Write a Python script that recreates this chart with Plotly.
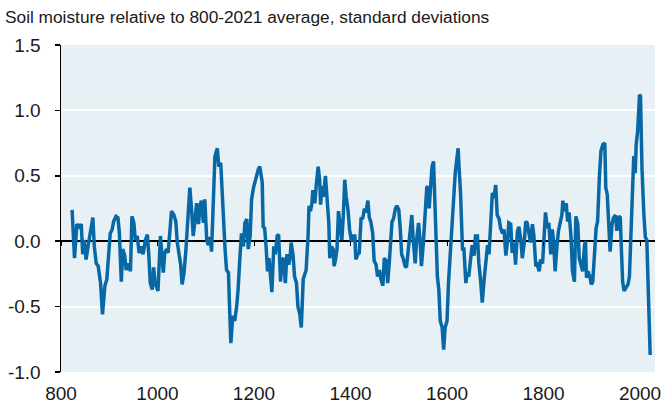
import plotly.graph_objects as go

years = [823, 828, 833, 838, 842, 845, 848, 852, 856, 860, 866, 869, 873, 877, 882, 886, 891, 895, 899, 902,
         906, 909, 914, 918, 921, 925, 928, 932, 935, 939, 944, 947, 951, 954, 958, 962, 966, 970, 975, 979,
         982, 985, 989, 992, 995, 1001, 1006,
         1012, 1015, 1019, 1022, 1026, 1029, 1034, 1038, 1041, 1045, 1048, 1051, 1055, 1059, 1063, 1067, 1071,
         1074, 1078, 1081, 1085, 1088, 1091, 1095, 1098, 1102, 1105, 1109, 1112, 1116, 1119, 1124, 1127, 1131,
         1134, 1136, 1140, 1143, 1147, 1149, 1152, 1156, 1160, 1164, 1167, 1171, 1174, 1178, 1181, 1185, 1188,
         1192, 1195, 1199, 1202, 1205, 1209, 1212,
         1217, 1219, 1222, 1225, 1228, 1231, 1234, 1237, 1241, 1244, 1248, 1251, 1255, 1258, 1261, 1265, 1268,
         1272, 1275, 1277, 1281, 1284, 1288, 1291, 1295, 1298, 1302, 1305, 1308, 1312, 1314, 1317, 1320, 1322,
         1326, 1329, 1333, 1336, 1338, 1341, 1344, 1348, 1351, 1355, 1357, 1360, 1364, 1366, 1369, 1372, 1375,
         1379, 1382, 1385, 1388, 1391, 1395, 1398, 1402, 1405, 1409, 1411, 1415,
         1418, 1422, 1425, 1429, 1432, 1436, 1439, 1442, 1446, 1449, 1453, 1456, 1460, 1463, 1467, 1470, 1474,
         1477, 1480, 1484, 1486, 1489, 1493, 1496, 1500, 1503, 1506, 1509, 1513, 1516, 1520, 1523, 1527, 1530,
         1534, 1537, 1541, 1544, 1547, 1551, 1554, 1558, 1560, 1563, 1566, 1569, 1572, 1574, 1577, 1580, 1583,
         1586, 1590, 1593, 1596, 1600, 1603, 1607, 1610, 1613, 1617,
         1620, 1623, 1625, 1628, 1632, 1635, 1639, 1642, 1645, 1649, 1652, 1656, 1659, 1663, 1666, 1670, 1673,
         1677, 1680, 1684, 1687, 1690, 1694, 1697, 1701, 1704, 1708, 1711, 1715, 1718, 1722, 1725, 1728, 1732,
         1735, 1739, 1742, 1746, 1749, 1753, 1756, 1760, 1763, 1766, 1770, 1773, 1777, 1780, 1784, 1787, 1791,
         1794, 1798, 1801, 1804, 1808, 1811, 1815, 1818,
         1821, 1824, 1828, 1831, 1835, 1838, 1840, 1843, 1847, 1850, 1853, 1857, 1860, 1864, 1867, 1871, 1874,
         1878, 1881, 1885, 1887, 1889, 1892, 1896, 1899, 1902, 1905, 1909, 1912, 1914, 1916, 1919, 1923, 1927,
         1929, 1932, 1935, 1938, 1942, 1945, 1949, 1952, 1956, 1959, 1961, 1964, 1967, 1971, 1975, 1978, 1981,
         1984, 1987, 1990, 1992, 1995, 1999, 2001, 2004, 2008, 2011, 2014, 2017, 2019, 2021]

moisture = [0.24, -0.13, 0.13, 0.11, 0.13, -0.10, 0.01, -0.14, -0.04, 0.04, 0.18, -0.04, -0.17, -0.19, -0.32, -0.56, -0.34, -0.29, -0.06, 0.06,
            0.09, 0.15, 0.19, 0.18, 0.06, -0.31, -0.06, -0.11, -0.22, -0.17, -0.23, 0.19, 0.14, 0.01, 0.04, -0.09, -0.04, -0.10, 0.01, 0.05,
            -0.11, -0.32, -0.37, -0.20, -0.32, -0.38, 0.04,
            -0.24, -0.09, -0.06, -0.09, 0.06, 0.23, 0.20, 0.15, -0.01, -0.13, -0.18, -0.33, -0.24, -0.06, 0.17, 0.41, 0.22,
            0.04, 0.17, 0.29, 0.13, 0.27, 0.31, 0.14, 0.32, 0.01, -0.03, 0.03, -0.08, 0.41, 0.65, 0.71, 0.57, 0.60,
            0.39, 0.14, -0.06, -0.22, -0.24, -0.47, -0.78, -0.57, -0.61, -0.50, -0.37, -0.11, 0.06, -0.04, 0.14, 0.17, -0.06,
            0.04, 0.32, 0.41, 0.45, 0.51, 0.55, 0.57,
            0.45, 0.11, 0.10, -0.04, -0.23, -0.13, -0.29, -0.39, -0.04, -0.10, 0.04, 0.05, -0.31, -0.14, -0.13, -0.32, -0.10,
            -0.18, -0.11, -0.01, -0.11, -0.27, -0.32, -0.50, -0.56, -0.66, -0.29, -0.25, -0.22, 0.04, 0.27, 0.23, 0.29, 0.39,
            0.29, 0.43, 0.57, 0.47, 0.28, 0.42, 0.34, 0.50, 0.33, 0.14, -0.13, -0.04, -0.06, -0.19, -0.14, -0.06, 0.23,
            0.08, 0.01, 0.19, 0.47, 0.34, 0.23, 0.09, 0.00, 0.04, 0.04, -0.14, -0.10,
            -0.09, 0.18, 0.17, 0.25, 0.22, 0.31, 0.18, 0.15, 0.06, -0.15, -0.18, -0.27, -0.22, -0.29, -0.34, -0.13, -0.15,
            -0.32, -0.18, 0.04, 0.15, 0.17, 0.25, 0.27, 0.24, 0.10, -0.10, -0.13, -0.19, -0.20, -0.06, 0.03, 0.20, 0.01,
            -0.17, 0.01, 0.14, 0.01, -0.19, -0.01, 0.22, 0.41, 0.42, 0.25, 0.42, 0.57, 0.61, 0.39, 0.14, -0.27, -0.37,
            -0.61, -0.66, -0.83, -0.66, -0.61, -0.32, -0.06, 0.11, 0.37, 0.52,
            0.62, 0.71, 0.56, 0.37, -0.06, -0.06, -0.32, -0.24, -0.27, -0.10, -0.03, -0.11, 0.04, 0.04, -0.17, -0.32, -0.47,
            -0.29, -0.19, -0.03, -0.10, 0.14, 0.37, 0.33, 0.43, 0.20, 0.17, 0.10, 0.06, 0.09, -0.11, -0.01, 0.14, 0.13,
            -0.09, -0.01, -0.18, 0.08, 0.11, 0.01, -0.13, -0.01, 0.15, 0.14, 0.04, -0.01, 0.13, 0.04, -0.19, -0.18, -0.23,
            -0.14, -0.17, 0.04, 0.22, 0.10, 0.14, -0.10, 0.09,
            0.00, -0.23, -0.03, 0.08, 0.15, 0.20, 0.31, 0.23, 0.29, 0.15, 0.22, 0.03, -0.23, -0.31, 0.19, 0.13, -0.13,
            -0.18, -0.23, -0.03, 0.00, -0.28, -0.23, -0.27, -0.33, -0.31, -0.15, 0.10, 0.15, 0.43, 0.51, 0.69, 0.74, 0.75,
            0.41, 0.36, 0.15, -0.08, 0.13, 0.18, 0.20, 0.08, 0.19, 0.18, -0.03, -0.31, -0.38, -0.36, -0.33, -0.27, 0.05,
            0.51, 0.65, 0.52, 0.74, 0.84, 1.12, 1.11, 0.56, 0.20, 0.03, 0.01, -0.38, -0.59, -0.87]

x_ticks = [800, 1000, 1200, 1400, 1600, 1800, 2000]
x_ticktext = ["800", "1000", "1200", "1400", "1600", "1800", "2000"]
y_ticks = [-1.0, -0.5, 0.0, 0.5, 1.0, 1.5]
y_ticktext = ["-1.0", "-0.5", "0.0", "0.5", "1.0", "1.5"]

subtitle = "Soil moisture relative to 800-2021 average, standard deviations"

FONT = "Liberation Sans, Arial, sans-serif"
TXT = "#1a1a1a"

fig = go.Figure()
fig.add_trace(go.Scatter(x=years, y=moisture, mode="lines",
                         line=dict(color="#0868a6", width=3.5), showlegend=False, hoverinfo="skip"))
# invisible trace on overlay axis to place tick marks on the zero line
fig.add_trace(go.Scatter(x=[years[0]], y=[0], xaxis="x2", mode="markers",
                         marker=dict(opacity=0), showlegend=False, hoverinfo="skip"))

fig.update_layout(
    template="none",
    width=662, height=407,
    margin=dict(l=61, r=7, t=45, b=35, pad=0),
    paper_bgcolor="white",
    plot_bgcolor="#e7f0f4",
    hovermode=False,
    font=dict(family=FONT, size=19, color=TXT),
    title=dict(text=subtitle, x=5 / 662, xanchor="left", xref="container",
               y=1 - 17 / 407, yanchor="middle", yref="container", pad=dict(l=0, r=0, t=0, b=0),
               font=dict(family=FONT, size=17.3, color=TXT)),
    xaxis=dict(range=[800, 2031], tickvals=x_ticks, ticktext=x_ticktext, automargin=False,
               showgrid=False, zeroline=False, showline=False, ticks="", ticklabelstandoff=8,
               tickfont=dict(family=FONT, size=19, color=TXT)),
    xaxis2=dict(range=[800, 2031], overlaying="x", anchor="free", position=0.4, automargin=False,
                tickvals=x_ticks, ticks="outside", ticklen=4, tickwidth=1, tickcolor="#000000",
                showticklabels=False, showgrid=False, zeroline=False, showline=False),
    yaxis=dict(range=[-1.0, 1.5], tickvals=y_ticks, ticktext=y_ticktext, automargin=False,
               showgrid=True, gridcolor="white", gridwidth=2,
               zeroline=True, zerolinecolor="#000000", zerolinewidth=1.5,
               showline=True, linecolor="#000000", linewidth=1.5,
               ticks="outside", ticklen=5, tickwidth=1.5, tickcolor="#000000", ticklabelstandoff=10,
               tickfont=dict(family=FONT, size=19, color=TXT)),
)

fig.write_html("out.html", config={"displayModeBar": False, "staticPlot": True},
               post_script="document.body.style.margin='0';document.body.style.padding='0';")
